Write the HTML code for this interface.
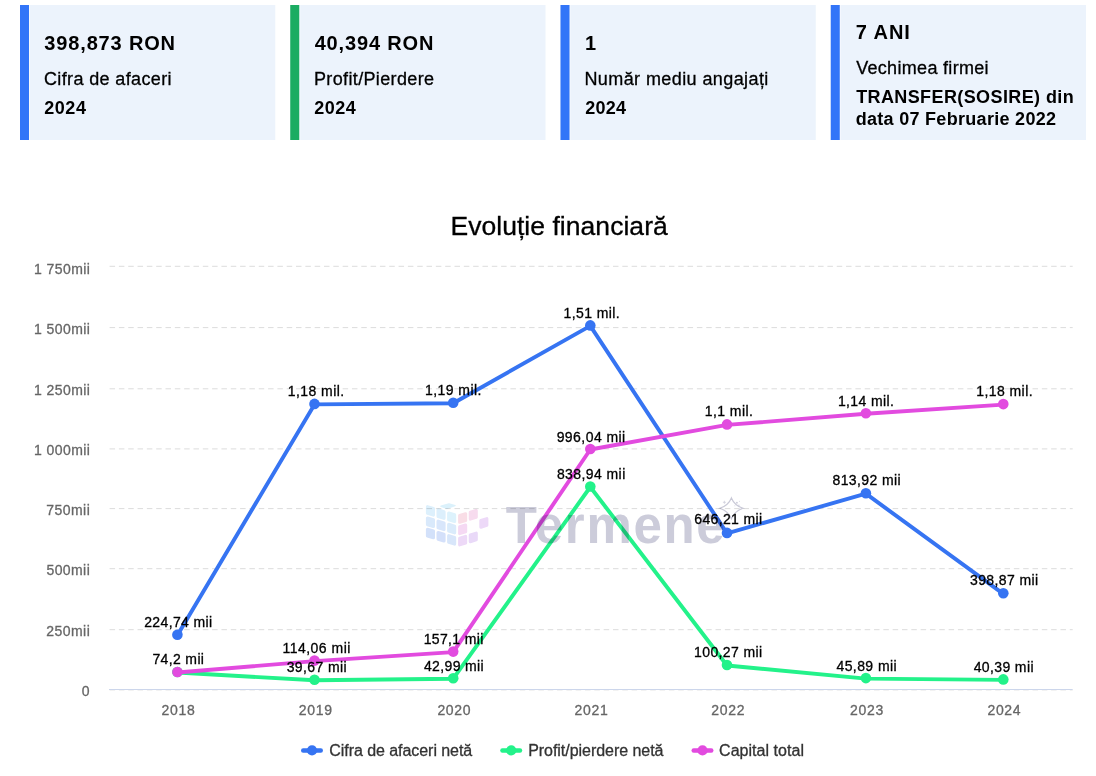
<!DOCTYPE html>
<html><head><meta charset="utf-8"><style>
html,body{margin:0;padding:0;background:#fff;width:1096px;height:776px;overflow:hidden}
svg{display:block;font-family:"Liberation Sans",sans-serif}
text.s{stroke-width:0.3px}
</style></head><body>
<svg width="1096" height="776" viewBox="0 0 1096 776">
<rect x="20" y="5" width="255.25" height="135" fill="#ECF3FC"/>
<rect x="29" y="5" width="1" height="135" fill="#F6F9FE"/>
<rect x="20" y="5" width="9" height="135" fill="#3275F8"/>
<rect x="290.25" y="5" width="255.25" height="135" fill="#ECF3FC"/>
<rect x="299.25" y="5" width="1" height="135" fill="#F6F9FE"/>
<rect x="290.25" y="5" width="9" height="135" fill="#1BAC62"/>
<rect x="560.5" y="5" width="255.25" height="135" fill="#ECF3FC"/>
<rect x="569.5" y="5" width="1" height="135" fill="#F6F9FE"/>
<rect x="560.5" y="5" width="9" height="135" fill="#3275F8"/>
<rect x="830.75" y="5" width="255.25" height="135" fill="#ECF3FC"/>
<rect x="839.75" y="5" width="1" height="135" fill="#F6F9FE"/>
<rect x="830.75" y="5" width="9" height="135" fill="#3275F8"/>
<line x1="109.58" y1="266.3" x2="1072.7" y2="266.3" stroke="#DCDCDC" stroke-width="1" stroke-dasharray="5.5 3.8225"/>
<line x1="109.58" y1="327.6" x2="1072.7" y2="327.6" stroke="#DCDCDC" stroke-width="1" stroke-dasharray="5.5 3.8225"/>
<line x1="109.58" y1="388.8" x2="1072.7" y2="388.8" stroke="#DCDCDC" stroke-width="1" stroke-dasharray="5.5 3.8225"/>
<line x1="109.58" y1="448.9" x2="1072.7" y2="448.9" stroke="#DCDCDC" stroke-width="1" stroke-dasharray="5.5 3.8225"/>
<line x1="109.58" y1="508.6" x2="1072.7" y2="508.6" stroke="#DCDCDC" stroke-width="1" stroke-dasharray="5.5 3.8225"/>
<line x1="109.58" y1="568.7" x2="1072.7" y2="568.7" stroke="#DCDCDC" stroke-width="1" stroke-dasharray="5.5 3.8225"/>
<line x1="109.58" y1="629.7" x2="1072.7" y2="629.7" stroke="#DCDCDC" stroke-width="1" stroke-dasharray="5.5 3.8225"/>
<line x1="109.58" y1="690.5" x2="1072.7" y2="690.5" stroke="#F2F2F2" stroke-width="1" stroke-dasharray="5.5 3.8225"/>
<line x1="109" y1="689.5" x2="1072.7" y2="689.5" stroke="#CCD6EB" stroke-width="1"/>
<polyline points="177.4,635.2 314.5,404.4 453.2,403.3 590.3,325.9 727.0,533.4 865.9,493.7 1003.3,593.8" fill="none" stroke="#3674F2" stroke-width="3.9" stroke-linejoin="round" stroke-linecap="round"/>
<circle cx="177.4" cy="634.7" r="5.3" fill="#3674F2"/>
<circle cx="314.5" cy="403.9" r="5.3" fill="#3674F2"/>
<circle cx="453.2" cy="402.8" r="5.3" fill="#3674F2"/>
<circle cx="590.3" cy="325.4" r="5.3" fill="#3674F2"/>
<circle cx="727" cy="532.9" r="5.3" fill="#3674F2"/>
<circle cx="865.9" cy="493.2" r="5.3" fill="#3674F2"/>
<circle cx="1003.3" cy="593.3" r="5.3" fill="#3674F2"/>
<polyline points="177.4,672.5 314.5,680.3 453.2,678.7 590.3,487.0 727.0,665.5 865.9,678.6 1003.3,679.9" fill="none" stroke="#23F28A" stroke-width="3.9" stroke-linejoin="round" stroke-linecap="round"/>
<circle cx="177.4" cy="672.0" r="5.3" fill="#23F28A"/>
<circle cx="314.5" cy="679.8" r="5.3" fill="#23F28A"/>
<circle cx="453.2" cy="678.2" r="5.3" fill="#23F28A"/>
<circle cx="590.3" cy="486.5" r="5.3" fill="#23F28A"/>
<circle cx="727" cy="665.0" r="5.3" fill="#23F28A"/>
<circle cx="865.9" cy="678.1" r="5.3" fill="#23F28A"/>
<circle cx="1003.3" cy="679.4" r="5.3" fill="#23F28A"/>
<polyline points="177.4,672.5 314.5,661.1 453.2,652.1 590.3,449.5 727.0,424.9 865.9,413.8 1003.3,404.6" fill="none" stroke="#E24BDF" stroke-width="3.9" stroke-linejoin="round" stroke-linecap="round"/>
<circle cx="177.4" cy="672.0" r="5.3" fill="#E24BDF"/>
<circle cx="314.5" cy="660.6" r="5.3" fill="#E24BDF"/>
<circle cx="453.2" cy="651.6" r="5.3" fill="#E24BDF"/>
<circle cx="590.3" cy="449.0" r="5.3" fill="#E24BDF"/>
<circle cx="727" cy="424.4" r="5.3" fill="#E24BDF"/>
<circle cx="865.9" cy="413.3" r="5.3" fill="#E24BDF"/>
<circle cx="1003.3" cy="404.1" r="5.3" fill="#E24BDF"/>
<rect x="301.0" y="748.2" width="22" height="4.5" rx="2.2" fill="#3674F2"/>
<circle cx="312.0" cy="750.4" r="5.1" fill="#3674F2"/>
<rect x="500.2" y="748.2" width="22" height="4.5" rx="2.2" fill="#23F28A"/>
<circle cx="511.2" cy="750.4" r="5.1" fill="#23F28A"/>
<rect x="691.5" y="748.2" width="22" height="4.5" rx="2.2" fill="#E24BDF"/>
<circle cx="702.5" cy="750.4" r="5.1" fill="#E24BDF"/>
<g style="mix-blend-mode:multiply"><path d="M427.50,506.70 L433.40,508.48 L433.40,515.08 L427.50,513.30 Z" fill="#DDF0FC" stroke="#DDF0FC" stroke-width="3.2" stroke-linejoin="round"/>
<path d="M427.50,518.00 L433.40,519.78 L433.40,526.38 L427.50,524.60 Z" fill="#D9E9FB" stroke="#D9E9FB" stroke-width="3.2" stroke-linejoin="round"/>
<path d="M427.50,529.30 L433.40,531.08 L433.40,537.68 L427.50,535.90 Z" fill="#D3E1FA" stroke="#D3E1FA" stroke-width="3.2" stroke-linejoin="round"/>
<path d="M438.10,509.90 L444.00,511.68 L444.00,518.28 L438.10,516.50 Z" fill="#DCEFFC" stroke="#DCEFFC" stroke-width="3.2" stroke-linejoin="round"/>
<path d="M438.10,521.20 L444.00,522.98 L444.00,529.58 L438.10,527.80 Z" fill="#D8E6FB" stroke="#D8E6FB" stroke-width="3.2" stroke-linejoin="round"/>
<path d="M438.10,532.50 L444.00,534.28 L444.00,540.88 L438.10,539.10 Z" fill="#D4E0FA" stroke="#D4E0FA" stroke-width="3.2" stroke-linejoin="round"/>
<path d="M448.70,513.10 L454.60,514.88 L454.60,521.48 L448.70,519.70 Z" fill="#DDF2FC" stroke="#DDF2FC" stroke-width="3.2" stroke-linejoin="round"/>
<path d="M448.70,524.40 L454.60,526.18 L454.60,532.78 L448.70,531.00 Z" fill="#DAEBFB" stroke="#DAEBFB" stroke-width="3.2" stroke-linejoin="round"/>
<path d="M448.70,535.70 L454.60,537.48 L454.60,544.08 L448.70,542.30 Z" fill="#D8E6FA" stroke="#D8E6FA" stroke-width="3.2" stroke-linejoin="round"/>
<path d="M459.70,515.60 L465.60,513.82 L465.60,520.42 L459.70,522.20 Z" fill="#F9DDE6" stroke="#F9DDE6" stroke-width="3.2" stroke-linejoin="round"/>
<path d="M459.70,526.90 L465.60,525.12 L465.60,531.72 L459.70,533.50 Z" fill="#F5D9F3" stroke="#F5D9F3" stroke-width="3.2" stroke-linejoin="round"/>
<path d="M459.70,538.20 L465.60,536.42 L465.60,543.02 L459.70,544.80 Z" fill="#EDD9F7" stroke="#EDD9F7" stroke-width="3.2" stroke-linejoin="round"/>
<path d="M470.30,512.40 L476.20,510.62 L476.20,517.22 L470.30,519.00 Z" fill="#F7DBEE" stroke="#F7DBEE" stroke-width="3.2" stroke-linejoin="round"/>
<path d="M470.30,535.00 L476.20,533.22 L476.20,539.82 L470.30,541.60 Z" fill="#E9D9F8" stroke="#E9D9F8" stroke-width="3.2" stroke-linejoin="round"/>
<path d="M480.90,520.50 L486.80,518.72 L486.80,525.32 L480.90,527.10 Z" fill="#EDD9F8" stroke="#EDD9F8" stroke-width="3.2" stroke-linejoin="round"/>
<path d="M441,506.3 L449,503.9 L455,505.6 L447,508.2 Z" fill="#DBF1FB" stroke="#DBF1FB" stroke-width="1.5" stroke-linejoin="round"/>
<text x="505.8" y="543.2" font-size="51" font-weight="bold" fill="#CCCCDA" letter-spacing="1.67">Termene</text>
<path d="M731.4,497.90000000000003 Q734.4,505.3 743.0,508.3 Q734.4,511.3 731.4,518.7 Q728.4,511.3 719.8,508.3 Q728.4,505.3 731.4,497.90000000000003 Z" fill="none" stroke="#C9C9D7" stroke-width="1.2"/>
<path d="M722.9,502.3 h3 M724.4,500.8 v3" stroke="#D4D4E0" stroke-width="0.9"/>
<circle cx="736.9" cy="502.8" r="1.0" fill="#D0D0DC"/>
<circle cx="738.9" cy="505.3" r="0.7" fill="#D0D0DC"/>
<circle cx="734.9" cy="505.8" r="0.5" fill="#D0D0DC"/>
<circle cx="739.4" cy="501.3" r="0.5" fill="#D0D0DC"/></g>
<text x="44.35" y="49.90" font-size="20" font-weight="bold" fill="#000" letter-spacing="0.840">398,873 RON</text>
<text class="s" x="43.90" y="84.80" font-size="18" fill="#000" stroke="#000" letter-spacing="0.377">Cifra de afaceri</text>
<text x="44.25" y="113.70" font-size="18" font-weight="bold" fill="#000" letter-spacing="0.533">2024</text>
<text x="314.65" y="49.90" font-size="20" font-weight="bold" fill="#000" letter-spacing="0.844">40,394 RON</text>
<text class="s" x="314.00" y="84.80" font-size="18" fill="#000" stroke="#000" letter-spacing="0.354">Profit/Pierdere</text>
<text x="314.15" y="113.70" font-size="18" font-weight="bold" fill="#000" letter-spacing="0.550">2024</text>
<text x="585.05" y="49.90" font-size="20" font-weight="bold" fill="#000" letter-spacing="0.000">1</text>
<text class="s" x="584.40" y="84.80" font-size="18" fill="#000" stroke="#000" letter-spacing="0.413">Număr mediu angajați</text>
<text x="585.15" y="113.70" font-size="18" font-weight="bold" fill="#000" letter-spacing="0.317">2024</text>
<text x="855.65" y="38.70" font-size="20" font-weight="bold" fill="#000" letter-spacing="0.963">7 ANI</text>
<text class="s" x="856.15" y="73.70" font-size="18" fill="#000" stroke="#000" letter-spacing="0.314">Vechimea firmei</text>
<text x="856.15" y="102.60" font-size="18" font-weight="bold" fill="#000" letter-spacing="0.397">TRANSFER(SOSIRE) din</text>
<text x="855.65" y="124.50" font-size="18" font-weight="bold" fill="#000" letter-spacing="0.300">data 07 Februarie 2022</text>
<text class="s" x="450.45" y="234.60" font-size="26.5" fill="#000" stroke="#000" letter-spacing="0.042">Evoluție financiară</text>
<text class="s" x="34.00" y="273.80" font-size="14" fill="#666" stroke="#666" letter-spacing="0.429">1 750mii</text>
<text class="s" x="34.00" y="333.80" font-size="14" fill="#666" stroke="#666" letter-spacing="0.429">1 500mii</text>
<text class="s" x="34.00" y="394.80" font-size="14" fill="#666" stroke="#666" letter-spacing="0.429">1 250mii</text>
<text class="s" x="34.00" y="454.90" font-size="14" fill="#666" stroke="#666" letter-spacing="0.429">1 000mii</text>
<text class="s" x="46.25" y="515.00" font-size="14" fill="#666" stroke="#666" letter-spacing="0.450">750mii</text>
<text class="s" x="46.50" y="574.75" font-size="14" fill="#666" stroke="#666" letter-spacing="0.400">500mii</text>
<text class="s" x="46.25" y="635.80" font-size="14" fill="#666" stroke="#666" letter-spacing="0.450">250mii</text>
<text class="s" x="81.75" y="695.60" font-size="14" fill="#666" stroke="#666" letter-spacing="0.000">0</text>
<text class="s" x="161.60" y="714.70" font-size="14" fill="#666" stroke="#666" letter-spacing="0.650">2018</text>
<text class="s" x="298.70" y="714.70" font-size="14" fill="#666" stroke="#666" letter-spacing="0.733">2019</text>
<text class="s" x="437.40" y="714.70" font-size="14" fill="#666" stroke="#666" letter-spacing="0.650">2020</text>
<text class="s" x="574.50" y="714.70" font-size="14" fill="#666" stroke="#666" letter-spacing="0.733">2021</text>
<text class="s" x="711.20" y="714.70" font-size="14" fill="#666" stroke="#666" letter-spacing="0.733">2022</text>
<text class="s" x="850.10" y="714.70" font-size="14" fill="#666" stroke="#666" letter-spacing="0.650">2023</text>
<text class="s" x="987.50" y="714.70" font-size="14" fill="#666" stroke="#666" letter-spacing="0.650">2024</text>
<text class="s" x="144.15" y="627.00" font-size="14" fill="#000" stroke="#000" letter-spacing="0.389">224,74 mii</text>
<text class="s" x="152.45" y="664.00" font-size="14" fill="#000" stroke="#000" letter-spacing="0.357">74,2 mii</text>
<text class="s" x="287.80" y="395.80" font-size="14" fill="#000" stroke="#000" letter-spacing="0.438">1,18 mil.</text>
<text class="s" x="282.40" y="652.60" font-size="14" fill="#000" stroke="#000" letter-spacing="0.494">114,06 mii</text>
<text class="s" x="286.70" y="671.50" font-size="14" fill="#000" stroke="#000" letter-spacing="0.400">39,67 mii</text>
<text class="s" x="425.10" y="394.80" font-size="14" fill="#000" stroke="#000" letter-spacing="0.425">1,19 mil.</text>
<text class="s" x="423.70" y="643.90" font-size="14" fill="#000" stroke="#000" letter-spacing="0.350">157,1 mii</text>
<text class="s" x="423.95" y="670.70" font-size="14" fill="#000" stroke="#000" letter-spacing="0.369">42,99 mii</text>
<text class="s" x="563.50" y="317.90" font-size="14" fill="#000" stroke="#000" letter-spacing="0.400">1,51 mil.</text>
<text class="s" x="556.65" y="441.70" font-size="14" fill="#000" stroke="#000" letter-spacing="0.444">996,04 mii</text>
<text class="s" x="556.90" y="478.80" font-size="14" fill="#000" stroke="#000" letter-spacing="0.417">838,94 mii</text>
<text class="s" x="704.70" y="415.70" font-size="14" fill="#000" stroke="#000" letter-spacing="0.450">1,1 mil.</text>
<text class="s" x="694.35" y="524.20" font-size="14" fill="#000" stroke="#000" letter-spacing="0.344">646,21 mii</text>
<text class="s" x="694.10" y="656.80" font-size="14" fill="#000" stroke="#000" letter-spacing="0.372">100,27 mii</text>
<text class="s" x="837.90" y="405.70" font-size="14" fill="#000" stroke="#000" letter-spacing="0.388">1,14 mil.</text>
<text class="s" x="832.50" y="484.80" font-size="14" fill="#000" stroke="#000" letter-spacing="0.394">813,92 mii</text>
<text class="s" x="836.45" y="670.70" font-size="14" fill="#000" stroke="#000" letter-spacing="0.419">45,89 mii</text>
<text class="s" x="976.20" y="395.70" font-size="14" fill="#000" stroke="#000" letter-spacing="0.438">1,18 mil.</text>
<text class="s" x="970.00" y="584.80" font-size="14" fill="#000" stroke="#000" letter-spacing="0.383">398,87 mii</text>
<text class="s" x="973.65" y="671.80" font-size="14" fill="#000" stroke="#000" letter-spacing="0.381">40,39 mii</text>
<text class="s" x="329.35" y="756.00" font-size="16" fill="#333" stroke="#333" letter-spacing="-0.060">Cifra de afaceri netă</text>
<text class="s" x="528.15" y="756.00" font-size="16" fill="#333" stroke="#333" letter-spacing="-0.037">Profit/pierdere netă</text>
<text class="s" x="719.05" y="756.00" font-size="16" fill="#333" stroke="#333" letter-spacing="0.038">Capital total</text>
</svg>
</body></html>
